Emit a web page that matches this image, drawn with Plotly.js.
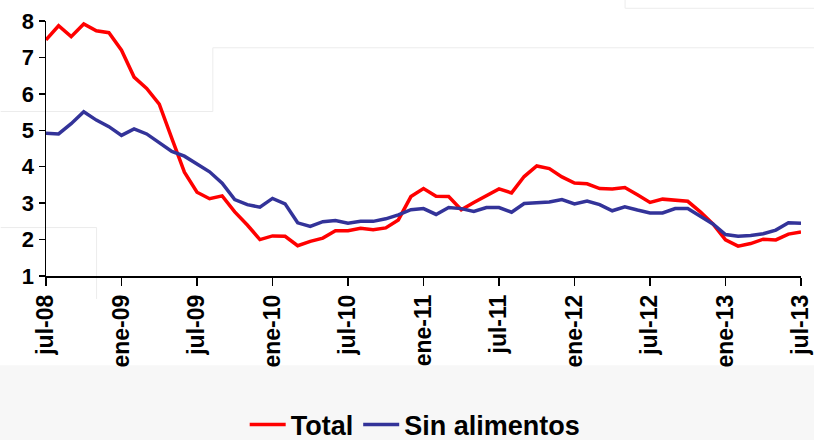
<!DOCTYPE html>
<html>
<head>
<meta charset="utf-8">
<script src="https://cdn.plot.ly/plotly-3.0.1.min.js"></script>
<style>
html,body{margin:0;padding:0;background:#ffffff;}
#chart{width:814px;height:440px;}
#chart text, #chart tspan { font-weight: 700 !important; }
</style>
</head>
<body>
<div id="chart"></div>
<script>
var months = [
  "jul-08","ago-08","sep-08","oct-08","nov-08","dic-08",
  "ene-09","feb-09","mar-09","abr-09","may-09","jun-09",
  "jul-09","ago-09","sep-09","oct-09","nov-09","dic-09",
  "ene-10","feb-10","mar-10","abr-10","may-10","jun-10",
  "jul-10","ago-10","sep-10","oct-10","nov-10","dic-10",
  "ene-11","feb-11","mar-11","abr-11","may-11","jun-11",
  "jul-11","ago-11","sep-11","oct-11","nov-11","dic-11",
  "ene-12","feb-12","mar-12","abr-12","may-12","jun-12",
  "jul-12","ago-12","sep-12","oct-12","nov-12","dic-12",
  "ene-13","feb-13","mar-13","abr-13","may-13","jun-13",
  "jul-13"
];

var total = [
  7.48, 7.87, 7.57, 7.92, 7.73, 7.68,
  7.20, 6.46, 6.15, 5.72, 4.78, 3.85,
  3.30, 3.12, 3.20, 2.76, 2.40, 2.00,
  2.10, 2.09, 1.83, 1.95, 2.04, 2.24,
  2.24, 2.31, 2.27, 2.32, 2.54, 3.18,
  3.40, 3.19, 3.18, 2.82, 3.02, 3.21,
  3.39, 3.28, 3.73, 4.02, 3.95, 3.72,
  3.55, 3.53, 3.40, 3.39, 3.43, 3.23,
  3.02, 3.11, 3.08, 3.05, 2.76, 2.43,
  1.99, 1.82, 1.89, 2.01, 1.99, 2.15,
  2.21
];

var sinAlimentos = [
  4.92, 4.90, 5.18, 5.51, 5.28, 5.10,
  4.86, 5.04, 4.90, 4.66, 4.42, 4.29,
  4.08, 3.86, 3.55, 3.10, 2.96, 2.89,
  3.13, 2.98, 2.46, 2.36, 2.49, 2.52,
  2.45, 2.50, 2.50, 2.57, 2.68, 2.82,
  2.85, 2.69, 2.88, 2.85, 2.77, 2.88,
  2.88, 2.75, 2.99, 3.02, 3.03, 3.10,
  2.98, 3.06, 2.96, 2.79, 2.90, 2.81,
  2.73, 2.73, 2.85, 2.85, 2.63, 2.43,
  2.14, 2.09, 2.11, 2.16, 2.26, 2.46,
  2.45
];

var seriesNames = ["Total", "Sin alimentos"];
var tickLabels = ["jul-08","ene-09","jul-09","ene-10","jul-10","ene-11","jul-11","ene-12","jul-12","ene-13","jul-13"];
var yTicks = [1,2,3,4,5,6,7,8];

var fontFam = "Arial";

var traces = [
  {
    x: months, y: total, name: seriesNames[0], type: "scatter", mode: "lines",
    line: {color: "#ff0000", width: 3.5}
  },
  {
    x: months, y: sinAlimentos, name: seriesNames[1], type: "scatter", mode: "lines",
    line: {color: "#333399", width: 3.5}
  }
];

var faint = {color: "#ececec", width: 1};
var layout = {
  width: 814, height: 440,
  margin: {l: 46, r: 13, t: 21, b: 164, pad: 0, autoexpand: false},
  paper_bgcolor: "rgba(0,0,0,0)",
  plot_bgcolor: "rgba(0,0,0,0)",
  showlegend: true,
  font: {family: fontFam, color: "#000000", weight: 700},
  xaxis: {
    type: "category",
    range: [0, 60],
    automargin: false,
    tickmode: "array",
    tickvals: tickLabels,
    ticktext: tickLabels,
    tickangle: -90,
    tickfont: {family: fontFam, size: 23, weight: 700, color: "#000"},
    ticks: "outside", ticklen: 8, tickwidth: 1.5, tickcolor: "#000",
    showline: true, linecolor: "#000", linewidth: 1.5,
    showgrid: false, zeroline: false, fixedrange: true
  },
  yaxis: {
    range: [1, 8],
    automargin: false,
    tickmode: "array",
    tickvals: yTicks,
    ticktext: yTicks.map(String),
    tickfont: {family: fontFam, size: 22, weight: 700, color: "#000"},
    ticks: "outside", ticklen: 6, tickwidth: 1.5, tickcolor: "#000",
    showline: true, linecolor: "#000", linewidth: 1.5,
    showgrid: false, zeroline: false, fixedrange: true
  },
  legend: {
    orientation: "h",
    x: 0.489, xref: "paper", xanchor: "center",
    y: 0.034, yref: "container", yanchor: "middle",
    font: {family: fontFam, size: 27, weight: 700, color: "#000"},
    bgcolor: "rgba(0,0,0,0)",
    itemwidth: 36,
    tracegroupgap: 0
  },
  shapes: [
    {type: "rect", xref: "paper", yref: "paper", x0: -0.1, x1: 1.1, y0: -0.35, y1: -0.8, fillcolor: "#f7f7f7", line: {width: 0}, layer: "below"},
    {type: "line", xref: "paper", yref: "paper", x0: -0.06, x1: 0.221, y0: 0.645, y1: 0.645, line: faint, layer: "below"},
    {type: "line", xref: "paper", yref: "paper", x0: 0.221, x1: 0.221, y0: 0.645, y1: 0.895, line: faint, layer: "below"},
    {type: "line", xref: "paper", yref: "paper", x0: 0.221, x1: 1.02, y0: 0.895, y1: 0.895, line: faint, layer: "below"},
    {type: "line", xref: "paper", yref: "paper", x0: -0.06, x1: 0.067, y0: 0.19, y1: 0.19, line: faint, layer: "below"},
    {type: "line", xref: "paper", yref: "paper", x0: 0.067, x1: 0.067, y0: 0.19, y1: -0.09, line: faint, layer: "below"},
    {type: "line", xref: "paper", yref: "paper", x0: 0.767, x1: 1.02, y0: 1.05, y1: 1.05, line: faint, layer: "below"},
    {type: "line", xref: "paper", yref: "paper", x0: 0.767, x1: 0.767, y0: 1.05, y1: 1.09, line: faint, layer: "below"}
  ]
};

Plotly.newPlot("chart", traces, layout, {displayModeBar: false, staticPlot: true});
</script>
</body>
</html>
